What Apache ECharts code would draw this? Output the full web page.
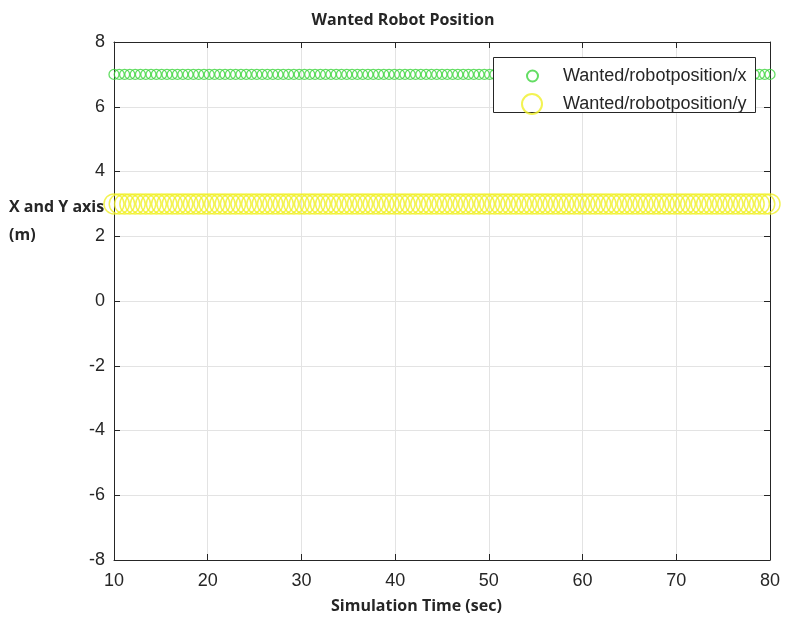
<!DOCTYPE html>
<html>
<head>
<meta charset="utf-8">
<title>Wanted Robot Position</title>
<script src="https://cdn.jsdelivr.net/npm/echarts@6/dist/echarts.min.js"></script>
<style>
  html, body { margin: 0; padding: 0; background: #fff; }
  #chart { width: 786px; height: 621px; }
</style>
</head>
<body>
<div id="chart"></div>
<script>
// Simulation time stamps (sec)
var simTime = [
  10.00, 10.56, 11.13, 11.69, 12.26, 12.82, 13.39, 13.95, 14.52, 15.08,
  15.65, 16.21, 16.77, 17.34, 17.90, 18.47, 19.03, 19.60, 20.16, 20.73,
  21.29, 21.85, 22.42, 22.98, 23.55, 24.11, 24.68, 25.24, 25.81, 26.37,
  26.94, 27.50, 28.06, 28.63, 29.19, 29.76, 30.32, 30.89, 31.45, 32.02,
  32.58, 33.15, 33.71, 34.27, 34.84, 35.40, 35.97, 36.53, 37.10, 37.66,
  38.23, 38.79, 39.35, 39.92, 40.48, 41.05, 41.61, 42.18, 42.74, 43.31,
  43.87, 44.44, 45.00, 45.56, 46.13, 46.69, 47.26, 47.82, 48.39, 48.95,
  49.52, 50.08, 50.65, 51.21, 51.77, 52.34, 52.90, 53.47, 54.03, 54.60,
  55.16, 55.73, 56.29, 56.85, 57.42, 57.98, 58.55, 59.11, 59.68, 60.24,
  60.81, 61.37, 61.94, 62.50, 63.06, 63.63, 64.19, 64.76, 65.32, 65.89,
  66.45, 67.02, 67.58, 68.15, 68.71, 69.27, 69.84, 70.40, 70.97, 71.53,
  72.10, 72.66, 73.23, 73.79, 74.35, 74.92, 75.48, 76.05, 76.61, 77.18,
  77.74, 78.31, 78.87, 79.44, 80.00
];

// Wanted/robotposition/x (m)
var wantedX = [
  7, 7, 7, 7, 7, 7, 7, 7, 7, 7,
  7, 7, 7, 7, 7, 7, 7, 7, 7, 7,
  7, 7, 7, 7, 7, 7, 7, 7, 7, 7,
  7, 7, 7, 7, 7, 7, 7, 7, 7, 7,
  7, 7, 7, 7, 7, 7, 7, 7, 7, 7,
  7, 7, 7, 7, 7, 7, 7, 7, 7, 7,
  7, 7, 7, 7, 7, 7, 7, 7, 7, 7,
  7, 7, 7, 7, 7, 7, 7, 7, 7, 7,
  7, 7, 7, 7, 7, 7, 7, 7, 7, 7,
  7, 7, 7, 7, 7, 7, 7, 7, 7, 7,
  7, 7, 7, 7, 7, 7, 7, 7, 7, 7,
  7, 7, 7, 7, 7, 7, 7, 7, 7, 7,
  7, 7, 7, 7, 7
];

// Wanted/robotposition/y (m)
var wantedY = [
  3, 3, 3, 3, 3, 3, 3, 3, 3, 3,
  3, 3, 3, 3, 3, 3, 3, 3, 3, 3,
  3, 3, 3, 3, 3, 3, 3, 3, 3, 3,
  3, 3, 3, 3, 3, 3, 3, 3, 3, 3,
  3, 3, 3, 3, 3, 3, 3, 3, 3, 3,
  3, 3, 3, 3, 3, 3, 3, 3, 3, 3,
  3, 3, 3, 3, 3, 3, 3, 3, 3, 3,
  3, 3, 3, 3, 3, 3, 3, 3, 3, 3,
  3, 3, 3, 3, 3, 3, 3, 3, 3, 3,
  3, 3, 3, 3, 3, 3, 3, 3, 3, 3,
  3, 3, 3, 3, 3, 3, 3, 3, 3, 3,
  3, 3, 3, 3, 3, 3, 3, 3, 3, 3,
  3, 3, 3, 3, 3
];

var seriesNames = ['Wanted/robotposition/x', 'Wanted/robotposition/y'];
var xTicks = { min: 10, max: 80, step: 10 };
var yTicks = { min: -8, max: 8, step: 2 };

function pairs(t, v) {
  var out = [];
  for (var i = 0; i < t.length; i++) out.push([t[i], v[i]]);
  return out;
}

var GREEN = '#3cd43c';
var YELLOW = '#f0f028';
var INK = '#262626';
var TICK_FONT = { fontFamily: 'Liberation Sans, Arial, sans-serif', fontSize: 18, color: INK };
var BOLD_FONT = 'Open Sans, Lato, sans-serif';

// value axis with inward ticks; the mirrored copy only carries ticks
function xAxisDef(pos, withLabels) {
  return {
    type: 'value', position: pos,
    min: xTicks.min, max: xTicks.max, interval: xTicks.step,
    axisLine: { show: true, onZero: false, lineStyle: { color: INK } },
    axisTick: { show: true, inside: true, length: 6, lineStyle: { color: INK } },
    axisLabel: Object.assign({ show: withLabels, margin: 12 }, TICK_FONT),
    splitLine: { show: withLabels, lineStyle: { color: '#e3e3e3', width: 1 } }
  };
}
function yAxisDef(pos, withLabels) {
  return {
    type: 'value', position: pos,
    min: yTicks.min, max: yTicks.max, interval: yTicks.step,
    axisLine: { show: true, onZero: false, lineStyle: { color: INK } },
    axisTick: { show: true, inside: true, length: 6, lineStyle: { color: INK } },
    axisLabel: Object.assign({ show: withLabels, margin: 9 }, TICK_FONT),
    splitLine: { show: withLabels, lineStyle: { color: '#e3e3e3', width: 1 } }
  };
}

var chart = echarts.init(document.getElementById('chart'), null, { renderer: 'canvas' });

chart.setOption({
  backgroundColor: '#ffffff',
  animation: false,
  title: {
    text: 'Wanted Robot Position',
    left: 398,
    textAlign: 'center',
    top: 7,
    textStyle: { fontFamily: BOLD_FONT, fontWeight: 'bold', fontSize: 16, color: INK }
  },
  grid: { left: 114, right: 16, top: 42, bottom: 61 },
  xAxis: [xAxisDef('bottom', true), xAxisDef('top', false)],
  yAxis: [yAxisDef('left', true), yAxisDef('right', false)],
  legend: [
    {
      data: [seriesNames[0]],
      left: 521, top: 62,
      icon: 'circle', itemWidth: 11, itemHeight: 11, itemGap: 0,
      textStyle: { fontFamily: 'Liberation Sans, Arial, sans-serif', fontSize: 18, color: INK, padding: [0, 0, 0, 20] },
      z: 20
    },
    {
      data: [seriesNames[1]],
      left: 516, top: 88,
      icon: 'circle', itemWidth: 20, itemHeight: 20, itemGap: 0,
      textStyle: { fontFamily: 'Liberation Sans, Arial, sans-serif', fontSize: 18, color: INK, padding: [0, 0, 0, 16] },
      z: 20
    }
  ],
  graphic: [
    {
      type: 'rect', z: 15,
      shape: { x: 493.5, y: 57.5, width: 262, height: 55 },
      style: { fill: '#ffffff', stroke: INK, lineWidth: 1 }
    },
    {
      type: 'text', left: 9, top: 199,
      style: { text: 'X and Y axis', fontFamily: BOLD_FONT, fontWeight: 'bold', fontSize: 16, fill: INK }
    },
    {
      type: 'text', left: 9, top: 227,
      style: { text: '(m)', fontFamily: BOLD_FONT, fontWeight: 'bold', fontSize: 16, fill: INK }
    },
    {
      type: 'text', left: 331, top: 598,
      style: { text: 'Simulation Time (sec)', fontFamily: BOLD_FONT, fontWeight: 'bold', fontSize: 16, fill: INK }
    }
  ],
  series: [
    {
      name: seriesNames[0],
      type: 'scatter',
      symbol: 'circle',
      symbolSize: 10,
      clip: false,
      itemStyle: { color: 'rgba(0,0,0,0)', borderColor: GREEN, borderWidth: 1.3 },
      data: pairs(simTime, wantedX)
    },
    {
      name: seriesNames[1],
      type: 'scatter',
      symbol: 'circle',
      symbolSize: 20,
      clip: false,
      itemStyle: { color: 'rgba(0,0,0,0)', borderColor: YELLOW, borderWidth: 1.5 },
      data: pairs(simTime, wantedY)
    }
  ]
});
</script>
</body>
</html>
